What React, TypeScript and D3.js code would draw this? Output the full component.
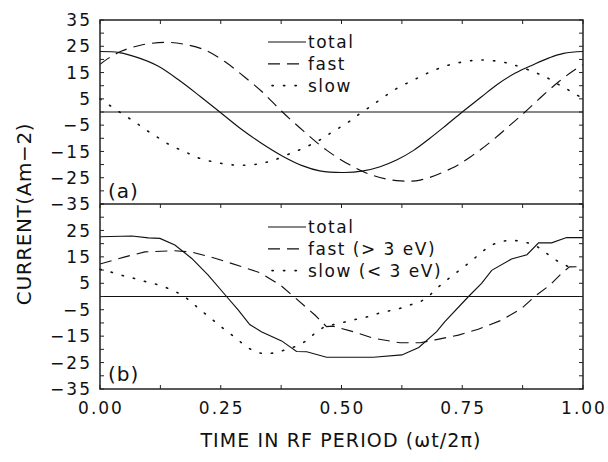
import * as d3 from "d3";

// ---- data: [phase, current] ----
const topTotal: [number, number][] = [
  [0, 23.0], [0.04, 22.6], [0.08, 20.6], [0.12, 17.5], [0.166, 11.8], [0.207, 6.0],
  [0.248, 0], [0.29, -6.2], [0.331, -11.5], [0.38, -17.0], [0.42, -20.5], [0.455, -22.4],
  [0.505, -23.0], [0.545, -22.4], [0.58, -20.8], [0.614, -18.3], [0.65, -14.5],
  [0.683, -10.0], [0.715, -5.3], [0.75, 0], [0.79, 5.8], [0.821, 10.3], [0.86, 14.8],
  [0.897, 18.0], [0.93, 20.6], [0.96, 22.3], [1.0, 23.0],
];
const topFast: [number, number][] = [
  [0, 18.1], [0.017, 20.4], [0.045, 23.2], [0.086, 25.5], [0.135, 26.5], [0.176, 25.7],
  [0.217, 23.6], [0.259, 19.1], [0.3, 13.2], [0.335, 7.8], [0.376, 0.3], [0.421, -7.2],
  [0.469, -14.5], [0.518, -20.2], [0.566, -24.2], [0.614, -26.1], [0.663, -25.9],
  [0.728, -21.4], [0.77, -16.7], [0.811, -11.0], [0.849, -5.0], [0.88, 0], [0.914, 5.8],
  [0.949, 11.4], [0.98, 15.7], [1.0, 18.0],
];
const topSlow: [number, number][] = [
  [0, 5.0], [0.017, 2.9], [0.037, 0.4], [0.057, -2.0], [0.076, -4.3], [0.095, -6.8],
  [0.114, -9.0], [0.133, -11.3], [0.154, -13.4], [0.176, -15.1], [0.197, -17.0],
  [0.219, -18.3], [0.241, -19.2], [0.266, -20.0], [0.288, -20.2], [0.31, -20.2],
  [0.335, -19.5], [0.359, -18.4], [0.4, -15.3], [0.421, -13.8], [0.442, -11.9],
  [0.462, -9.9], [0.48, -7.7], [0.5, -5.5], [0.521, -3.0], [0.538, -0.6], [0.559, 2.0],
  [0.576, 4.2], [0.597, 6.9], [0.614, 8.9], [0.635, 10.9], [0.656, 12.8], [0.676, 14.6],
  [0.699, 16.4], [0.721, 17.8], [0.744, 18.8], [0.767, 19.5], [0.79, 19.8], [0.814, 19.5],
  [0.837, 18.9], [0.859, 17.8], [0.9, 15.1], [0.923, 13.3], [0.944, 11.0], [0.964, 9.0],
  [0.983, 6.9], [1.0, 5.2],
];

const botTotal: [number, number][] = [
  [0, 22.6], [0.066, 22.9], [0.1, 22.2], [0.124, 22.0], [0.155, 19.5], [0.19, 14.4],
  [0.224, 8.1], [0.262, 0], [0.286, -5.1], [0.31, -10.6], [0.334, -13.3], [0.376, -16.8],
  [0.407, -20.8], [0.428, -20.9], [0.469, -23.0], [0.566, -23.0], [0.625, -22.1],
  [0.66, -19.3], [0.697, -13.3], [0.714, -9.5], [0.763, 0], [0.79, 5.0], [0.811, 9.9],
  [0.852, 14.2], [0.884, 15.8], [0.908, 20.3], [0.935, 20.3], [0.966, 22.3], [1.0, 22.3],
];
const botFast: [number, number][] = [
  [0, 12.3], [0.052, 15.0], [0.093, 16.9], [0.155, 17.3], [0.19, 16.8], [0.238, 14.5],
  [0.293, 11.3], [0.331, 9.0], [0.373, 4.4], [0.404, -0.5], [0.445, -7.0], [0.469, -11.4],
  [0.482, -11.2], [0.524, -13.3], [0.566, -15.8], [0.621, -17.5], [0.663, -17.5],
  [0.694, -16.4], [0.742, -14.6], [0.783, -12.4], [0.832, -8.9], [0.873, -4.5], [0.9, 0],
  [0.932, 4.4], [0.956, 8.8], [0.972, 11.2], [1.0, 11.3],
];
const botSlow: [number, number][] = [
  [0, 10.3], [0.02, 9.4], [0.043, 8.1], [0.066, 7.1], [0.088, 5.9], [0.11, 5.0],
  [0.133, 3.7], [0.154, 2.1], [0.175, 0], [0.192, -2.6], [0.21, -5.4], [0.228, -8.0],
  [0.246, -10.8], [0.264, -13.3], [0.282, -15.8], [0.3, -18.6], [0.32, -20.9],
  [0.342, -21.8], [0.366, -21.2], [0.39, -19.8], [0.41, -18.6], [0.424, -17.1],
  [0.445, -13.9], [0.466, -11.2], [0.49, -10.4], [0.51, -9.5], [0.531, -8.6],
  [0.556, -7.6], [0.576, -6.4], [0.597, -5.5], [0.621, -4.5], [0.642, -3.2],
  [0.663, -2.0], [0.68, 0], [0.7, 3.5], [0.718, 6.2], [0.736, 8.8], [0.754, 11.3],
  [0.773, 14.1], [0.79, 16.7], [0.807, 19.2], [0.828, 20.7], [0.851, 21.4], [0.874, 20.8],
  [0.897, 19.8], [0.916, 17.6], [0.934, 15.0], [0.952, 12.8], [0.97, 11.3], [0.985, 10.6],
];

const yLabelsTop = [35, 25, 15, 5, -5, -15, -25, -35];
const yLabelsBot = [25, 15, 5, -5, -15, -25, -35];
const xLabels = [0, 0.25, 0.5, 0.75, 1];
const legendTop = ["total", "fast", "slow"];
const legendBot = ["total", "fast (> 3 eV)", "slow (< 3 eV)"];

const W = 608;
const H = 462;
const L = 100;
const R = 583;
const FONT = "'DejaVu Sans', 'Liberation Sans', sans-serif";

const DASH = "12 7";
const DOT = "1.3 10.2";
const styles = [
  { dash: undefined as string | undefined, cap: "butt" },
  { dash: DASH, cap: "butt" },
  { dash: DOT, cap: "round" },
];

const fmtY = (v: number) => (v < 0 ? "\u2212" + Math.abs(v) : String(v));

function Panel({
  top, bottom, series, labels, legend, legendY, tag, tagY, showTop,
}: {
  top: number; bottom: number; series: [number, number][][]; labels: number[];
  legend: string[]; legendY: number; tag: string; tagY: number; showTop: boolean;
}) {
  const x = d3.scaleLinear().domain([0, 1]).range([L, R]);
  const y = d3.scaleLinear().domain([-35, 35]).range([bottom, top]);
  const smooth = tag === "(a)";
  const line = d3
    .line<[number, number]>()
    .x((d) => x(d[0]))
    .y((d) => y(d[1]))
    .curve(smooth ? d3.curveCatmullRom.alpha(0.5) : d3.curveLinear);
  const yTicks = d3.range(-35, 36, 5);
  const xTicks = d3.range(0, 1.0001, 0.125);

  return (
    <g>
      {/* zero line */}
      <line x1={L} x2={R} y1={y(0)} y2={y(0)} stroke="#111" strokeWidth={1.1} />
      {series.map((s, i) => (
        <path
          key={i}
          d={line(s) || ""}
          fill="none"
          stroke="#111"
          strokeWidth={i === 2 ? 1.6 : 1.15}
          strokeDasharray={styles[i].dash}
          strokeLinecap={styles[i].cap as any}
        />
      ))}
      {/* y ticks left and right */}
      {yTicks.map((t) => (
        <g key={t}>
          <line x1={L} x2={L + 4} y1={y(t)} y2={y(t)} stroke="#222" />
          <line x1={R - 4} x2={R} y1={y(t)} y2={y(t)} stroke="#222" />
        </g>
      ))}
      {/* x ticks on top edge, pointing into panel */}
      {xTicks.map((t) => (
        <line key={t} x1={x(t)} x2={x(t)} y1={top} y2={top + 4} stroke="#222" />
      ))}
      {!showTop &&
        xTicks.map((t) => (
          <line key={"b" + t} x1={x(t)} x2={x(t)} y1={bottom} y2={bottom - 4} stroke="#222" />
        ))}
      {labels.map((v) => (
        <text
          key={v}
          x={92}
          y={y(v)}
          dy="0.36em"
          textAnchor="end"
          fontSize={17}
          letterSpacing={2}
          fontFamily={FONT}
          fill="#111"
        >
          {fmtY(v)}
        </text>
      ))}
      {legend.map((name, i) => {
        const ly = legendY + i * 21.8;
        return (
          <g key={name}>
            <line
              x1={i === 2 ? 272 : 268}
              x2={306}
              y1={ly - 6}
              y2={ly - 6}
              stroke="#111"
              strokeWidth={i === 2 ? 1.6 : 1.15}
              strokeDasharray={styles[i].dash}
              strokeLinecap={styles[i].cap as any}
            />
            <text x={308} y={ly} fontSize={17} letterSpacing={1.5} fontFamily={FONT} fill="#111">
              {name}
            </text>
          </g>
        );
      })}
      <text x={108} y={tagY} fontSize={20} letterSpacing={1} fontFamily={FONT} fill="#111">
        {tag}
      </text>
    </g>
  );
}

export default function App() {
  const x = d3.scaleLinear().domain([0, 1]).range([L, R]);
  return (
    <div style={{ position: "absolute", left: 0, top: 0, background: "#fff" }}>
      <svg width={W} height={H} style={{ display: "block" }}>
        <rect width={W} height={H} fill="#fff" />
        <Panel
          top={20}
          bottom={204}
          series={[topTotal, topFast, topSlow]}
          labels={yLabelsTop}
          legend={legendTop}
          legendY={48}
          tag="(a)"
          tagY={198}
          showTop
        />
        <Panel
          top={204}
          bottom={389}
          series={[botTotal, botFast, botSlow]}
          labels={yLabelsBot}
          legend={legendBot}
          legendY={233}
          tag="(b)"
          tagY={381}
          showTop={false}
        />
        {/* frame */}
        <rect x={L} y={20} width={R - L} height={369} fill="none" stroke="#222" strokeWidth={1.5} />
        <line x1={L} x2={R} y1={204} y2={204} stroke="#222" strokeWidth={1.5} />
        {xLabels.map((t) => (
          <text
            key={t}
            x={x(t) + 1}
            y={414}
            textAnchor="middle"
            fontSize={17}
            letterSpacing={2}
            fontFamily={FONT}
            fill="#111"
          >
            {t.toFixed(2)}
          </text>
        ))}
        <text
          x={341}
          y={447}
          textAnchor="middle"
          fontSize={19}
          letterSpacing={1.1}
          fontFamily={FONT}
          fill="#111"
        >
          TIME IN RF PERIOD (ωt/2π)
        </text>
        <text
          transform="translate(31,214) rotate(-90)"
          textAnchor="middle"
          fontSize={20}
          letterSpacing={0.6}
          fontFamily={FONT}
          fill="#111"
        >
          CURRENT(Am−2)
        </text>
      </svg>
    </div>
  );
}
